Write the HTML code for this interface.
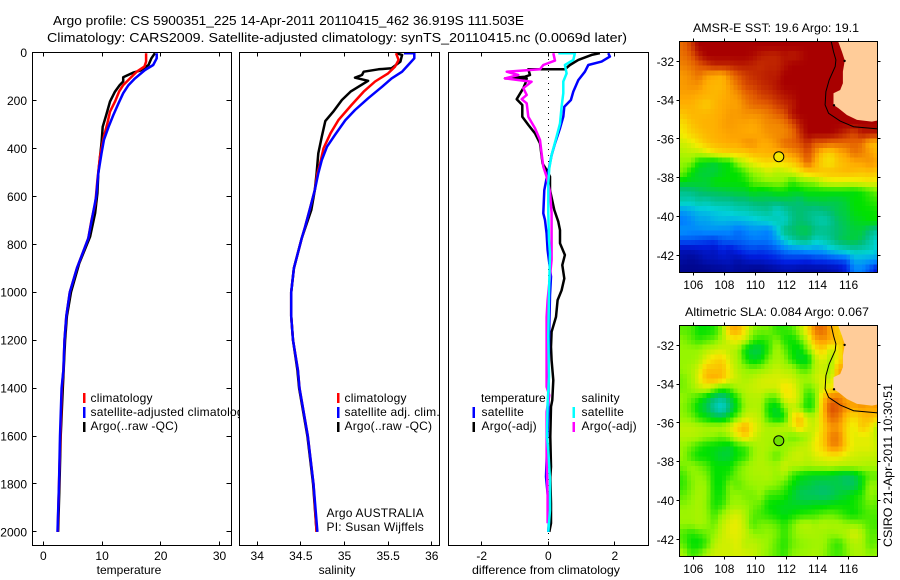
<!DOCTYPE html>
<html lang="en">
<head>
<meta charset="utf-8">
<title>Argo profile CS 5900351_225</title>
<style>
html,body{margin:0;padding:0;background:#fff;width:900px;height:580px;overflow:hidden}
svg{display:block}
text{font-family:"Liberation Sans",Arial,sans-serif;font-size:12px;fill:#000}
.frame{fill:none;stroke:#000;stroke-width:1}
.bg{fill:#fff}
.title{font-size:13px}
.lg{letter-spacing:.2px}
</style>
</head>
<body>
<svg id="chart" xmlns="http://www.w3.org/2000/svg" width="900" height="580" viewBox="0 0 900 580">
<defs>
<clipPath id="clip-sst"><rect x="679.5" y="41.5" width="198" height="231"/></clipPath>
<clipPath id="clip-sla"><rect x="679.5" y="325.5" width="198" height="231"/></clipPath>
</defs>
<rect width="900" height="580" fill="#fff"/>
<text x="53" y="25" class="title" textLength="471" lengthAdjust="spacingAndGlyphs">Argo profile: CS 5900351_225 14-Apr-2011 20110415_462 36.919S 111.503E</text>
<text x="47" y="42" class="title" textLength="580" lengthAdjust="spacingAndGlyphs">Climatology: CARS2009. Satellite-adjusted climatology: synTS_20110415.nc (0.0069d later)</text>

<g id="panel-temp">
<rect class="bg" x="32.5" y="52.5" width="199" height="493"/>
<g id="axes-temp"></g>
<g id="marks-temp"></g>
<rect class="frame" x="32.5" y="52.5" width="199" height="493"/>
<g>
<rect x="83" y="393" width="2.5" height="10" fill="#f00"/>
<text x="90.5" y="402" class="lg">climatology</text>
<rect x="83" y="407" width="2.5" height="11" fill="#00f"/>
<text x="90.5" y="416" class="lg">satellite-adjusted climatology</text>
<rect x="83" y="422" width="2.5" height="10" fill="#000"/>
<text x="90.5" y="430" class="lg">Argo(..raw -QC)</text>
</g>
<text x="129" y="574" text-anchor="middle">temperature</text>
</g>

<g id="panel-sal">
<rect class="bg" x="239.5" y="52.5" width="200" height="493"/>
<g id="axes-sal"></g>
<g id="marks-sal"></g>
<rect class="frame" x="239.5" y="52.5" width="200" height="493"/>
<g>
<rect x="337" y="393" width="2.5" height="10" fill="#f00"/>
<text x="344.5" y="402" class="lg">climatology</text>
<rect x="337" y="407" width="2.5" height="11" fill="#00f"/>
<text x="344.5" y="416" class="lg">satellite adj. clim.</text>
<rect x="337" y="422" width="2.5" height="10" fill="#000"/>
<text x="344.5" y="430" class="lg">Argo(..raw -QC)</text>
</g>
<text x="326.5" y="517" class="lg">Argo AUSTRALIA</text>
<text x="326.5" y="531" class="lg">PI: Susan Wijffels</text>
<text x="337" y="574" text-anchor="middle">salinity</text>
</g>

<g id="panel-diff">
<rect class="bg" x="448.5" y="52.5" width="200" height="493"/>
<g id="axes-diff"></g>
<g id="marks-diff"></g>
<rect class="frame" x="448.5" y="52.5" width="200" height="493"/>
<g>
<text x="481" y="402">temperature</text>
<rect x="472.5" y="407" width="2.5" height="11" fill="#00f"/>
<text x="481.5" y="416" class="lg">satellite</text>
<rect x="472.5" y="422" width="2.5" height="10" fill="#000"/>
<text x="481.5" y="430" class="lg">Argo(-adj)</text>
<text x="581.5" y="402" class="lg">salinity</text>
<rect x="572.5" y="407" width="2.5" height="11" fill="#0ff"/>
<text x="581.5" y="416" class="lg">satellite</text>
<rect x="572.5" y="422" width="2.5" height="10" fill="#f0f"/>
<text x="581.5" y="430" class="lg">Argo(-adj)</text>
</g>
<text x="546" y="574" text-anchor="middle" textLength="148" lengthAdjust="spacingAndGlyphs">difference from climatology</text>
</g>

<g id="map-sst">
<text x="693" y="32" textLength="166" lengthAdjust="spacingAndGlyphs">AMSR-E SST: 19.6 Argo: 19.1</text>
<g id="cells-sst" clip-path="url(#clip-sst)"></g>
<g id="axes-sst"></g>
<rect class="frame" x="679.5" y="41.5" width="198" height="231"/>
</g>

<g id="map-sla">
<text x="685" y="316" textLength="184" lengthAdjust="spacingAndGlyphs">Altimetric SLA: 0.084 Argo: 0.067</text>
<g id="cells-sla" clip-path="url(#clip-sla)"></g>
<g id="axes-sla"></g>
<rect class="frame" x="679.5" y="325.5" width="198" height="231"/>
</g>
<text transform="translate(892,547) rotate(-90)" textLength="163" lengthAdjust="spacingAndGlyphs">CSIRO 21-Apr-2011 10:30:51</text>
</svg>

<script>
// ---- Shared tick labels ----
var depthTicks = [0,200,400,600,800,1000,1200,1400,1600,1800,2000];
var tempTicks = [0,10,20,30];
var salTicks = [34,34.5,35,35.5,36];
var salTickLabels = ['34','34.5','35','35.5','36'];
var diffTicks = [-2,0,2];
var lonTicks = [106,108,110,112,114,116];
var latTicks = [-32,-34,-36,-38,-40,-42];

// ---- Temperature profiles ----
var climTempDepth = [3,38,59,80,108,136,163,205,247,295,351,400,435,532,629,699,775,900,1000,1100,1200,1325,1400,1600,1800,2000];
var climTemp = [17.5,17.5,17.2,15.9,14.75,13.6,12.9,12.2,11.35,10.9,10.3,9.9,9.65,9.2,8.85,8.2,7.65,5.7,4.5,3.9,3.6,3.4,3.15,2.9,2.66,2.43];
var satTempDepth = [3,24,52,73,108,136,170,212,261,310,365,421,504,601,671,775,900,1000,1100,1200,1325,1400,1600,1800,2000];
var satTemp = [19.3,19.3,18.7,17.3,15.6,14.5,13.6,12.8,11.9,11.1,10.3,9.9,9.35,9,8.45,7.65,5.7,4.5,3.9,3.6,3.4,3.1,2.83,2.66,2.4];
var argoTempDepth = [3,24,52,76,84,103,121,136,163,205,261,310,379,435,504,587,671,768,880,1000,1100,1200,1400,1600,1800,2000];
var argoTemp = [19,18.4,17.9,16.45,15.3,13.6,13.6,13,12.2,11.35,10.7,10.1,9.9,9.65,9.35,9.2,8.8,7.95,6.1,4.7,4,3.7,3.3,2.95,2.75,2.5];

// ---- Salinity profiles ----
var climSalDepth = [3,31,59,87,121,163,219,282,337,400,463,504,574,643,726,775,900,1000,1100,1200,1325,1400,1600,1800,2000];
var climSal = [35.59,35.62,35.58,35.5,35.35,35.22,35.08,34.93,34.84,34.76,34.72,34.69,34.66,34.61,34.55,34.51,34.42,34.39,34.39,34.41,34.466,34.485,34.58,34.645,34.68];
var satSalDepth = [3,3,24,52,80,108,143,191,240,282,344,393,449,504,574,643,726,775,900,1000,1100,1200,1325,1400,1600,1800,2000];
var satSal = [35.68,35.8,35.8,35.73,35.66,35.54,35.43,35.27,35.12,35.01,34.89,34.8,34.74,34.7,34.66,34.61,34.55,34.51,34.42,34.39,34.39,34.41,34.466,34.485,34.58,34.645,34.69];
var argoSalDepth = [3,10,38,66,70,80,94,105,118,163,198,247,286,351,421,504,574,657,775,900,1000,1100,1200,1325,1400,1600,1800,2000];
var argoSal = [35.59,35.66,35.64,35.54,35.39,35.22,35.2,35.12,35.27,35.07,34.97,34.87,34.78,34.74,34.7,34.68,34.66,34.62,34.51,34.42,34.39,34.39,34.41,34.46,34.48,34.575,34.64,34.68];

// ---- Differences from climatology ----
var diffSatTempDepth = [3,17,38,52,80,115,163,198,226,268,316,379,428,476,525,574,671,699,755,824,935,1012,1200,1500,1770,1870,1950,2000];
var diffSatTemp = [1.8,1.85,1.6,1.2,1.1,0.9,0.75,0.68,0.48,0.45,0.35,0.2,0.1,0.03,-0.05,-0.12,-0.15,-0.1,-0.05,-0.02,0.08,0.05,0.02,0,-0.07,0,0.02,0];
var diffSatSalDepth = [3,3,31,52,87,121,170,226,296,351,428,483,546,671,782,838,1005,1186,1352,1464,1603,1659,1784,1909,2000];
var diffSatSal = [0.3,0.8,0.75,0.5,0.55,0.45,0.45,0.4,0.35,0.25,0.1,0.03,0,0,0.02,0.05,0.02,0,0.02,-0.02,-0.04,0,0.05,0.05,0];
var diffArgoTempDepth = [3,10,31,52,70,70,94,101,108,108,122,149,195,219,268,302,337,379,463,497,518,574,657,706,741,796,845,887,943,992,1033,1103,1165,1228,1284,1367,1450,1478,1603,1728,1770,1881,1964,2000];
var diffArgoTemp = [1.55,1.3,0.9,0.65,0.5,-0.6,-0.55,-0.7,-1.3,-0.65,-0.67,-0.75,-0.95,-0.78,-0.78,-0.6,-0.4,-0.25,-0.17,-0.02,0.05,0.05,0.18,0.3,0.35,0.35,0.5,0.42,0.48,0.4,0.28,0.23,0.1,0.08,0.1,0.15,0.12,0.08,0.06,0.08,0.06,0.08,0.08,0.03];
var diffArgoSalDepth = [3,34,52,70,80,94,108,122,149,177,195,212,268,316,365,421,476,518,581,671,768,865,1033,1103,1395,1430,1499,1680,1847,1964];
var diffArgoSal = [0.15,0.2,-0.15,-0.25,-1.25,-0.9,-1.3,-0.5,-0.75,-0.65,-0.8,-0.65,-0.6,-0.4,-0.25,-0.2,-0.15,-0.05,0.05,0.1,0.1,0.1,-0.02,-0.05,-0.05,0.03,-0.05,-0.05,-0.02,-0.02];

// ---- SST map, colour level per half-degree cell, north to south ----
var sstRows = [
[8.8,9.3,10,10,10,10,10,10,10,10,10,10,10,10,10,10,10,10,10,10,10,10,10,10,10,10],
[8.7,9,9.6,10,10,10,10,10,10,9.9,9.7,9.6,9.6,9.8,9.7,9.8,10,10,10,10,10,10,10,10,10,10],
[8.5,8.7,9,9.3,9.6,9.6,9.6,9.7,9.7,9.6,9.5,9.6,9.6,9.8,10,10,10,10,10,10,10,10,10,10,10,10],
[8.2,8.4,8.7,8.2,8,7.9,8.5,9,9.3,9.5,9.6,9.7,9.7,10,10,10,10,10,10,10,10,10,10,10,10,10],
[8.2,8.3,8.3,7.9,7.8,7.8,8.2,8.7,9.2,9.3,9.5,9.6,9.8,10,10,10,10,10,10,10,10,10,10,10,10,10],
[8.1,8.1,8,7.9,7.8,7.9,8.1,8.3,8.8,9,9.3,9.4,9.6,9.8,9.9,10,10,10,10,10,10,10,10,10,10,10],
[7.9,7.9,7.7,7.5,7.8,8,8.1,8.1,8.5,8.8,8.9,9,9.3,9.5,9.7,10,10,10,10,10,10,10,10,10,10,10],
[7.6,7.8,7.8,7.8,7.9,8,8.2,8.2,8.3,8.3,8.4,8.6,8.9,9.1,9.8,10,10,10,10,10,10,10,10,10,10,10],
[7.2,7.6,7.8,7.9,7.9,8.1,8.2,8.1,8.1,8,8.2,8.4,8.4,8.6,9.1,9.7,10,10,10,10,10,10,10,10,10,10],
[7,7.4,7.6,7.8,7.9,8,8.1,8.1,8,8,8.1,8.3,8.4,8.4,8.7,9.4,10,10,10,10,9.8,9.5,9.2,9.7,9.7,9.7],
[6.6,6.8,7.2,7.6,7.8,7.9,8,8,8.3,8.3,8,8,8.3,8.8,8.9,9.1,9.5,9,9,8.8,8.8,8.8,8.9,8.7,7.9,7.7],
[6.3,6.4,6.4,6.7,7.1,7.3,7.4,7.5,7.5,7.8,7.8,7.9,7.9,8,8.3,8.6,9.2,8.4,7.6,7.4,7.9,8.2,8.7,8.5,8.2,7.8],
[6,5.9,5,4.8,4.6,4.9,5,6,6.5,6.9,7.2,7.3,7.1,7.3,7.5,8,8.9,8,7.3,7.1,7.6,7.8,8,8.1,8.3,8.1],
[5.8,5,4.6,4.5,4.5,4.8,5,5,5.5,6,6.2,6.6,6.3,6.4,6.6,7,7.4,7.6,7.6,7.7,7.7,7.8,7.7,7.6,7.7,7.5],
[4.8,4.7,4.7,4.6,5,5,5,5,5.1,5.6,5.8,5.9,6,5.9,5.3,5.7,5.9,6,6.5,6.7,6.8,6.7,6.8,6.9,7,6.9],
[3.8,3.9,4.1,4.3,4.3,4.4,4.5,4.6,4.6,4.9,4.7,4.8,5,5,4.8,4.8,5,5,5,5,5,5,4.9,5.1,5.4,5.7],
[3.4,3.3,3.6,3.4,3.7,3.7,3.7,3.9,3.9,4.1,4.2,4.1,4.1,4.2,4.2,4,4.4,4.4,4.5,4.4,4.4,4.6,5,5,5.2,5.3],
[2.3,2.5,2.7,2.8,2.9,3,3.1,3.3,3.3,3.5,3.6,3.7,3.1,3.5,3.9,4.1,3.9,3.8,3.9,4.1,4.4,4.5,4.9,5,5,5.1],
[1.9,2.1,2.4,2.4,2.6,2.7,2.6,2.6,2.7,2.8,3,3.1,3.4,3.1,3.8,4.1,3.9,3.6,3.4,3.7,4.2,4.4,4.7,4.8,5,5],
[2.2,2.1,2.1,2.2,2.2,2.1,2.1,1.8,2,2.2,2.1,2,2.7,3.9,4.1,4.3,4.4,3.9,3.8,3.9,4.1,4.3,4.5,4.5,4,3.6],
[1.6,1.6,1.5,1.4,1.3,1.6,1.7,1.7,1.8,1.9,1.9,1.9,2.3,2.9,3.5,3.9,3.9,3.2,3.4,3.7,4.2,4.4,4.5,4.2,3.6,3],
[0.6,0.6,0.7,0.8,0.7,1,0.8,1.1,1.3,1.4,1.3,1.4,1.6,1.9,2.1,2.1,2.3,2.3,2.4,2.8,3.1,3.3,3.5,3.4,3.3,2.9],
[0.4,0.3,0.4,0.6,0.6,0.7,0.7,0.5,0.7,0.8,0.8,0.9,1,1.2,1.2,1.2,1.1,1.3,1.3,1.4,1.5,1.6,2.5,2.5,2.4,2.3],
[0.2,0.2,0.2,0.2,0.3,0.3,0.4,0.3,0.3,0.2,0.2,0.3,0.4,0.5,0.5,0.4,0.4,0.4,0.4,0.5,0.6,1,2,2,1.5,0.8]
];

// ---- SLA map, colour level per half-degree cell, north to south ----
var slaRows = [
[5.6,5.5,5,5,5.2,6,7.8,8,7,6,5.8,5.8,5.3,5.3,5.5,6.2,7.2,8.6,8.8,8,7.5,7,7,7,7,7],
[5.9,5.6,5.3,5.5,5.7,6.2,6.8,7,6.5,5.5,5.2,5.4,5.9,5.2,5,5.5,6.5,8,8.3,8,7.5,8,8,8,8,8],
[6,6,6,6.3,6.5,6.6,6.4,6.2,4.9,4.4,4.5,5.3,6.2,5.7,5,4.8,5.8,7,7.5,6.5,7,8,8,8,8,8],
[6,6,6.2,6.8,7.3,7.4,6.6,6.2,5.2,4.7,4.9,5.8,6.2,6,5.2,4.7,4.7,6.3,6.8,6.2,7,8,8.5,7,7,7],
[6,6.2,6.6,7.6,7.6,7.7,6.9,6.3,6,5.8,6,6.2,6.5,6.3,6.2,5.6,5.5,6.3,6.6,6,8,8.2,8,7,7,7],
[5.8,6.1,6.8,7.8,8,7.7,6.9,6.5,6.2,6.4,6.6,6.7,6.7,6.7,6.6,6.2,6.1,6.5,6.8,6.4,8,8.3,7.5,7.5,7.5,7.5],
[5.8,6,6.4,6.6,6,5.4,5.6,6.2,6.4,6.5,6.6,6.6,6.6,7.2,7,6.3,5.6,6,6.8,7,7.6,8.2,8,8,8,8],
[6,5.7,5.3,4.7,4,3.7,4.4,5.3,6.2,6.3,6.3,5.6,5.6,6.8,7,6.4,5.1,5.6,7.6,8.6,8.6,8,8.2,8.5,8.2,8.2],
[5.9,5.5,4.8,4.3,3.5,3,4,5,6.1,6.3,6.2,5,4.6,5.7,6.5,6,5,5.6,7.8,9.2,9,8.3,8,8.2,8,8.2],
[6,5.8,5.3,4.9,4.5,4.4,5,5.8,6.6,6.6,6.3,5.3,4.7,5,7,7.8,6.5,6.4,7.6,8.8,8.6,7.6,7.2,7.6,7.8,7.4],
[6.4,6.4,6.3,6.2,6.3,6.3,6.7,7.5,8,7,6.5,6.2,6.3,6.4,6.7,7.5,6.7,6.5,7.4,8.2,8.2,7.3,6.8,7.6,7.2,6.2],
[6.3,6.3,6.2,6,5.9,5.7,6.1,6.8,7.4,6.7,6.3,6.2,6.2,6,5.7,5.8,6.2,6.8,7.5,8.5,8.6,7.3,6.8,6.8,6.8,6.4],
[6,5.7,5.3,5,4.9,4.8,4.6,5.2,5.4,6,6.3,6.2,6,6,6.2,6.4,6.5,7,7.4,8.4,8.4,7.4,6.8,6.8,6.8,6.5],
[6,5.4,5,5,4.8,4.5,4.6,5,5.3,6,6.3,6,5.6,6.1,6.5,6.6,6.4,6.7,6.9,7,7,6.7,6.6,6.5,6.5,6.4],
[5.8,6,5.8,5.5,5,5,5,5.6,6,6.2,6.3,6.2,6.1,6.6,6.3,6.3,6.2,6.3,6.3,6.4,6.3,6.3,6.3,6.3,6.2,6.2],
[5.4,5.9,6,5.8,5,5,5.3,5.8,6,6.2,6.2,6.3,6,6.2,5.4,5,4.8,4.7,4.7,4.6,4.4,4.2,4.4,5,5.6,5.6],
[5.3,5.8,6.1,6,5,5,5.9,5.6,5.9,6,6.1,6,5.9,5.5,5,4.6,4.5,4.3,4.2,4.3,4.4,4.2,4.2,4.9,6,6],
[5.6,5.9,6.2,6,5.1,5.1,5.9,6,5.8,5.8,6,5.4,5.3,5.2,4.7,4.3,4.2,4.2,4.1,4.2,4.5,4.7,5,5.3,6,5.8],
[5.9,6,6.2,5.9,5.1,5.3,6,6.1,6,5.8,5.6,5,4.9,4.8,4.7,4.7,4.7,4.8,4.8,4.9,5,5,5.1,5.4,5.7,5.6],
[6.1,6.1,6.2,6,5.4,6,6.5,6.7,6.2,5.6,5.4,5.2,5,4.8,5,5.2,5.3,5.4,5.6,5.7,5.5,5.2,5,5.3,5.5,5.5],
[6,6,6.2,6,5.7,6.4,6.8,6.9,6.3,5.5,5.8,5.8,5.6,5.2,5.7,6.2,6.3,6.1,6.3,6.2,6.2,6,6,5.8,5.5,5.4],
[5.5,5.2,5.4,5.7,6,6.5,6.8,6.8,6.5,6,5.9,6,5.8,5.3,5.8,6.1,6.2,6.2,6.1,6,6.1,6.3,6.7,6.3,5.6,5.6],
[5.6,5,4.9,5.4,6.3,6.6,6.6,6.8,6.3,6.4,6.2,6,5.6,5.2,5.7,5.9,6,6.1,6.1,5.6,5.3,5.9,6.3,6.2,5.6,5.7],
[6.2,5.4,5.6,6.2,6.6,6.6,6.6,6.7,6.6,6.5,6.2,5.9,5.6,5.3,5.9,6,6.1,6.2,6,5.6,5.4,5.8,6.2,6.2,5.9,6]
];

// ---- Coastline and float position ----
var landLon = [115.29,115.57,115.74,115.72,115.63,115.63,115.46,115.03,115.03,115.35,115.89,116.54,117.5,117.95,117.95];
var landLat = [-30.9,-31.5,-31.93,-32.1,-32.53,-33.13,-33.48,-33.65,-34.25,-34.42,-34.77,-35.02,-35.11,-35.04,-30.9];
var contourLon = [114.86,115.03,115.18,115.14,114.75,114.54,114.49,114.71,115.46,116.32,117.95];
var contourLat = [-30.9,-31.5,-31.93,-32.27,-32.96,-33.56,-34.25,-34.68,-35.08,-35.37,-35.49];
var capeLon = [115.74,115.06];
var capeLat = [-31.98,-34.27];
var floatLon = 111.503;
var floatLat = -36.919;

// ---- Axis functions ----
var NS = 'http://www.w3.org/2000/svg';
function yDepth(p){ return 52.5 + 0.2397 * p; }
function xTemp(t){ return 43.4 + 5.87 * t; }
function xSal(s){ return 257.2 + 87.3 * (s - 34); }
function xDiff(d){ return 548.3 + 33.3 * d; }
function xLon(lon){ return 693.3 + 15.53 * (lon - 106); }
function ySst(lat){ return 61.3 + 19.4 * (-32 - lat); }
function ySla(lat){ return 345.3 + 19.4 * (-32 - lat); }

var colourStops = [[0,0,120],[0,30,225],[0,130,255],[0,210,215],[0,190,120],[0,225,0],[150,245,0],[245,235,0],[255,170,0],[225,90,0],[168,0,0]];
function levelColour(v){
  var i = Math.max(0, Math.min(9, Math.floor(v)));
  var f = Math.max(0, Math.min(1, v - i));
  var a = colourStops[i], b = colourStops[i + 1];
  return 'rgb(' + Math.round(a[0] + (b[0] - a[0]) * f) + ',' + Math.round(a[1] + (b[1] - a[1]) * f) + ',' + Math.round(a[2] + (b[2] - a[2]) * f) + ')';
}
function make(tag, parent){
  var el = document.createElementNS(NS, tag);
  parent.appendChild(el);
  return el;
}
function drawLine(parent, x1, y1, x2, y2){
  var el = make('line', parent);
  el.setAttribute('x1', x1);
  el.setAttribute('y1', y1);
  el.setAttribute('x2', x2);
  el.setAttribute('y2', y2);
  el.setAttribute('stroke', '#000');
  el.setAttribute('stroke-width', 1);
  el.setAttribute('shape-rendering', 'crispEdges');
  
  
  return el;
}
function drawLabel(parent, x, y, str, anchor){
  var el = make('text', parent);
  el.setAttribute('x', x);
  el.setAttribute('y', y);
  el.setAttribute('text-anchor', anchor);
  el.textContent = str;
  
  
  return el;
}
function drawCurve(parent, values, depths, xFn, colour, name){
  var pts = [];
  for (var i = 0; i < values.length; i++) {
    pts.push(xFn(values[i]).toFixed(1) + ',' + yDepth(depths[i]).toFixed(1));
  }
  var el = make('polyline', parent);
  el.setAttribute('points', pts.join(' '));
  el.setAttribute('fill', 'none');
  el.setAttribute('stroke', colour);
  el.setAttribute('stroke-width', 2.5);
  el.setAttribute('stroke-linejoin', 'round');
  
  
}

// ---- Profile panels ----
function drawProfileAxes(id, ticks, labels, xFn){
  var g = document.getElementById(id);
  ticks.forEach(function(t, i){
    var x = Math.floor(xFn(t)) + 0.5;
    drawLine(g, x, 52.5, x, 56.5);
    drawLine(g, x, 541.5, x, 545.5);
    drawLabel(g, xFn(t), 560, labels[i], 'middle');
  });
}
drawProfileAxes('axes-temp', tempTicks, tempTicks.map(String), xTemp);
drawProfileAxes('axes-sal', salTicks, salTickLabels, xSal);
drawProfileAxes('axes-diff', diffTicks, diffTicks.map(String), xDiff);
depthTicks.forEach(function(p){
  var g = document.getElementById('axes-temp');
  var y = Math.floor(yDepth(p)) + 0.5;
  drawLine(g, 32.5, y, 36.5, y);
  drawLine(g, 226.5, y, 231.5, y);
  drawLabel(g, 27, yDepth(p) + 4.5, String(p), 'end');
});

var marksTemp = document.getElementById('marks-temp');
drawCurve(marksTemp, argoTemp, argoTempDepth, xTemp, '#000', 'argo-temperature-line');
drawCurve(marksTemp, climTemp, climTempDepth, xTemp, '#f00', 'climatology-temperature-line');
drawCurve(marksTemp, satTemp, satTempDepth, xTemp, '#00f', 'satellite-temperature-line');

var marksSal = document.getElementById('marks-sal');
drawCurve(marksSal, argoSal, argoSalDepth, xSal, '#000', 'argo-salinity-line');
drawCurve(marksSal, climSal, climSalDepth, xSal, '#f00', 'climatology-salinity-line');
drawCurve(marksSal, satSal, satSalDepth, xSal, '#00f', 'satellite-salinity-line');

var marksDiff = document.getElementById('marks-diff');
var zeroLine = make('line', marksDiff);
zeroLine.setAttribute('x1', Math.floor(xDiff(0)) + 0.5);
zeroLine.setAttribute('x2', Math.floor(xDiff(0)) + 0.5);
zeroLine.setAttribute('y1', 53);
zeroLine.setAttribute('y2', 545);
zeroLine.setAttribute('stroke', '#000');
zeroLine.setAttribute('stroke-width', 1);
zeroLine.setAttribute('stroke-dasharray', '1 5');


drawCurve(marksDiff, diffArgoTemp, diffArgoTempDepth, xDiff, '#000', 'argo-temperature-difference-line');
drawCurve(marksDiff, diffSatTemp, diffSatTempDepth, xDiff, '#00f', 'satellite-temperature-difference-line');
drawCurve(marksDiff, diffArgoSal, diffArgoSalDepth, xDiff, '#f0f', 'argo-salinity-difference-line');
drawCurve(marksDiff, diffSatSal, diffSatSalDepth, xDiff, '#0ff', 'satellite-salinity-difference-line');

// ---- Maps ----
// Each half-degree value is displayed as four quarter-degree shades, blended with its neighbours.
function sampleRows(rows, u, v){
  var nj = rows.length, ni = rows[0].length;
  var cu = Math.max(0, Math.min(ni - 1, u - 0.5));
  var cv = Math.max(0, Math.min(nj - 1, v - 0.5));
  var i0 = Math.floor(cu), j0 = Math.floor(cv);
  var i1 = Math.min(ni - 1, i0 + 1), j1 = Math.min(nj - 1, j0 + 1);
  var fu = cu - i0, fv = cv - j0;
  var top = rows[j0][i0] * (1 - fu) + rows[j0][i1] * fu;
  var bot = rows[j1][i0] * (1 - fu) + rows[j1][i1] * fu;
  return top * (1 - fv) + bot * fv;
}
function drawMap(cellsId, axesId, rows, yFn, top, bottom, markerFill, prefix){
  var g = document.getElementById(cellsId);
  var lon0 = 105.1;
  var lat0 = -30.97;
  var nj = rows.length, ni = rows[0].length;
  for (var sj = 0; sj < nj * 2; sj++) {
    for (var si = 0; si < ni * 2; si++) {
      var level = sampleRows(rows, (si + 0.5) / 2, (sj + 0.5) / 2);
      var x1 = xLon(lon0 + si * 0.25), x2 = xLon(lon0 + (si + 1) * 0.25);
      var y1 = yFn(lat0 - sj * 0.25), y2 = yFn(lat0 - (sj + 1) * 0.25);
      var cell = make('rect', g);
      cell.setAttribute('x', x1.toFixed(2));
      cell.setAttribute('y', y1.toFixed(2));
      cell.setAttribute('width', (x2 - x1 + 0.4).toFixed(2));
      cell.setAttribute('height', (y2 - y1 + 0.4).toFixed(2));
      cell.setAttribute('fill', levelColour(level));
      cell.setAttribute('shape-rendering', 'crispEdges');
      
      
    }
  }
  var landPts = landLon.map(function(lon, i){ return xLon(lon).toFixed(1) + ',' + yFn(landLat[i]).toFixed(1); });
  var land = make('polygon', g);
  land.setAttribute('points', landPts.join(' '));
  land.setAttribute('fill', '#ffcc99');
  
  
  var contourPts = contourLon.map(function(lon, i){ return xLon(lon).toFixed(1) + ',' + yFn(contourLat[i]).toFixed(1); });
  var contour = make('polyline', g);
  contour.setAttribute('points', contourPts.join(' '));
  contour.setAttribute('fill', 'none');
  contour.setAttribute('stroke', '#000');
  contour.setAttribute('stroke-width', 1);
  
  
  capeLon.forEach(function(lon, i){
    var cape = make('circle', g);
    cape.setAttribute('cx', xLon(lon).toFixed(1));
    cape.setAttribute('cy', yFn(capeLat[i]).toFixed(1));
    cape.setAttribute('r', 1.2);
    cape.setAttribute('fill', '#000');
    
    
  });
  var marker = make('circle', g);
  marker.setAttribute('cx', xLon(floatLon).toFixed(1));
  marker.setAttribute('cy', yFn(floatLat).toFixed(1));
  marker.setAttribute('r', 5);
  marker.setAttribute('fill', markerFill);
  marker.setAttribute('stroke', '#000');
  marker.setAttribute('stroke-width', 1);
  
  

  var axes = document.getElementById(axesId);
  lonTicks.forEach(function(lon){
    var x = Math.floor(xLon(lon)) + 0.5;
    drawLine(axes, x, top - 3, x, top);
    drawLine(axes, x, bottom, x, bottom + 3);
    drawLabel(axes, xLon(lon), bottom + 16.5, String(lon), 'middle');
  });
  latTicks.forEach(function(lat){
    var y = Math.floor(yFn(lat)) + 0.5;
    drawLine(axes, 676.5, y, 679.5, y);
    drawLine(axes, 877.5, y, 880.5, y);
    drawLabel(axes, 674, yFn(lat) + 4.5, String(lat), 'end');
  });
}
drawMap('cells-sst', 'axes-sst', sstRows, ySst, 41.5, 272.5, '#f2e600', 'sst');
drawMap('cells-sla', 'axes-sla', slaRows, ySla, 325.5, 556.5, '#70e000', 'sla');
</script>
</body>
</html>
